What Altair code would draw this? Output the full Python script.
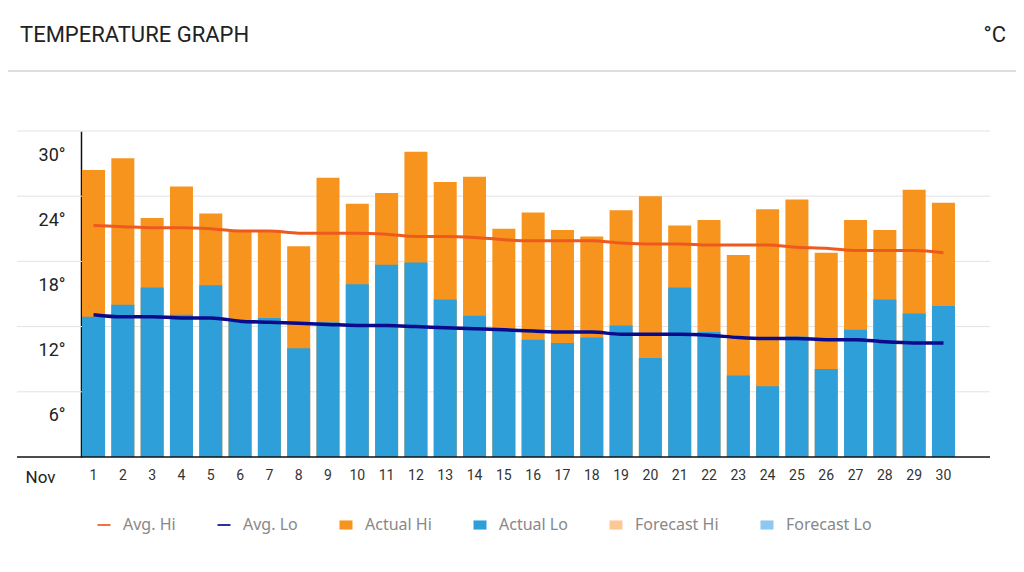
import altair as alt
import pandas as pd

# ---------------- data ----------------
days = list(range(1, 31))
actual_hi = [26.4, 27.5, 22.0, 24.9, 22.4, 20.7, 20.7, 19.4, 25.7, 23.3,
             24.3, 28.1, 25.3, 25.8, 21.0, 22.5, 20.9, 20.3, 22.7, 24.0,
             21.3, 21.8, 18.6, 22.8, 23.7, 18.8, 21.8, 20.9, 24.6, 23.4]
actual_lo = [12.9, 14.0, 15.6, 13.1, 15.8, 12.6, 12.8, 10.0, 12.4, 15.9,
             17.7, 17.9, 14.5, 13.0, 11.7, 10.8, 10.5, 11.0, 12.1, 9.1,
             15.6, 11.5, 7.5, 6.5, 11.1, 8.1, 11.7, 14.5, 13.2, 13.9]
avg_hi = [21.3, 21.2, 21.1, 21.1, 21.0, 20.8, 20.8, 20.6, 20.6, 20.6,
          20.5, 20.3, 20.3, 20.2, 20.0, 19.9, 19.9, 19.9, 19.7, 19.6,
          19.6, 19.5, 19.5, 19.5, 19.3, 19.2, 19.0, 19.0, 19.0, 18.8]
avg_lo = [13.1, 12.9, 12.9, 12.8, 12.8, 12.5, 12.4, 12.3, 12.2, 12.1,
          12.1, 12.0, 11.9, 11.8, 11.7, 11.6, 11.5, 11.5, 11.3, 11.3,
          11.3, 11.2, 11.0, 10.9, 10.9, 10.8, 10.8, 10.6, 10.5, 10.5]

series = ["Avg. Hi", "Avg. Lo", "Actual Hi", "Actual Lo", "Forecast Hi", "Forecast Lo"]
series_colors = ["#EE5A1E", "#0A0A8C", "#F7941D", "#2E9FD8", "#FDC896", "#8DC8EE"]
line_path = "M-1,-0.13H1V0.13H-1Z"
rect_path = "M-1,-0.7H1V0.7H-1Z"
series_shapes = [line_path, line_path, rect_path, rect_path, rect_path, rect_path]

y_ticks = [6, 12, 18, 24, 30]
month_label = "Nov"
title_text = ["TEMPERATURE GRAPH"]
unit_text = ["°C"]

# ---------------- layout ----------------
W, H = 875, 326

df = pd.DataFrame({"day": days, "hi": actual_hi, "lo": actual_lo,
                   "avg_hi": avg_hi, "avg_lo": avg_lo})
grid_df = pd.DataFrame({"v": y_ticks})
base_df = pd.DataFrame({"v": [0]})
legend_df = pd.DataFrame({"series": series})
one = pd.DataFrame({"a": [0]})

color_scale = alt.Scale(domain=series, range=series_colors)
y_scale = alt.Scale(domain=[0, 30], nice=False)

x_axis = alt.Axis(
    title=month_label, labelAngle=0, ticks=False, domain=False, grid=False,
    labelFont="Roboto", labelFontSize=14, labelColor="#333", labelPadding=11,
    titleX=-56, titleY=20, titleAlign="left", titleBaseline="middle",
    titleFont="Roboto", titleFontSize=17, titleFontWeight="normal",
    titleColor="#222",
)
x_enc = alt.X("day:O", scale=alt.Scale(paddingInner=0.215, paddingOuter=0.035),
              axis=x_axis)

y_axis = alt.Axis(
    title=None, values=y_ticks, labelExpr="datum.value + '°'", grid=False,
    ticks=False, domain=True, domainColor="#111", domainWidth=1.5,
    labelFont="Roboto", labelFontSize=18, labelColor="#222",
    labelPadding=16, labelOffset=24,
)

legend_def = alt.Legend(
    title=None, orient="none", legendX=15, legendY=386, direction="horizontal",
    labelFont="Noto Sans", labelFontSize=16, labelColor="#888",
    labelOffset=11, columnPadding=40, symbolSize=169, symbolStrokeWidth=0,
    symbolOpacity=1, padding=0,
)


def yq(field):
    return alt.Y(field, scale=y_scale, axis=y_axis)


def col():
    return alt.Color("series:N", scale=color_scale, legend=legend_def)


grid = alt.Chart(grid_df).mark_rule(color="#e3e3e3", strokeWidth=1).encode(
    y=yq("v:Q"), x=alt.value(-64), x2=alt.value(W + 34),
)

bars_hi = alt.Chart(df).transform_calculate(series="'Actual Hi'").mark_bar().encode(
    x=x_enc, y=yq("hi:Q"), color=col(),
)

bars_lo = alt.Chart(df).transform_calculate(series="'Actual Lo'").mark_bar().encode(
    x=x_enc, y=yq("lo:Q"), color=col(),
)

baseline = alt.Chart(base_df).mark_rule(color="#111", strokeWidth=1.5).encode(
    y=yq("v:Q"), x=alt.value(-64), x2=alt.value(W + 34),
)

line_hi = alt.Chart(df).transform_calculate(series="'Avg. Hi'").mark_line(
    strokeWidth=3, interpolate="monotone").encode(
    x=x_enc, y=yq("avg_hi:Q"), color=col(),
)

line_lo = alt.Chart(df).transform_calculate(series="'Avg. Lo'").mark_line(
    strokeWidth=3.5, interpolate="monotone").encode(
    x=x_enc, y=yq("avg_lo:Q"), color=col(),
)

header_line = alt.Chart(one).mark_rule(color="#dddddd", strokeWidth=2).encode(
    x=alt.value(-73), x2=alt.value(W + 60), y=alt.value(-60),
)

title = alt.Chart(pd.DataFrame({"t": title_text})).mark_text(
    align="left", baseline="middle", font="Roboto", fontSize=22, color="#222"
).encode(text="t:N", x=alt.value(-61), y=alt.value(-96))

unit = alt.Chart(pd.DataFrame({"t": unit_text})).mark_text(
    align="right", baseline="middle", font="Roboto", fontSize=22, color="#222"
).encode(text="t:N", x=alt.value(W + 50), y=alt.value(-96))

legend_layer = alt.Chart(legend_df).transform_filter("false").mark_point(
    filled=True, size=169, opacity=1).encode(
    color=col(),
    shape=alt.Shape("series:N", scale=alt.Scale(domain=series, range=series_shapes),
                    legend=legend_def),
)

chart = alt.layer(
    grid, bars_hi, bars_lo, baseline, line_hi, line_lo,
    header_line, title, unit, legend_layer,
).properties(
    width=W, height=H,
    padding={"left": 73, "top": 123, "right": 60, "bottom": 107},
    autosize=alt.AutoSizeParams(type="none"),
).configure_view(stroke=None)

chart.save("out.html", embed_options={"renderer": "svg", "actions": False})
